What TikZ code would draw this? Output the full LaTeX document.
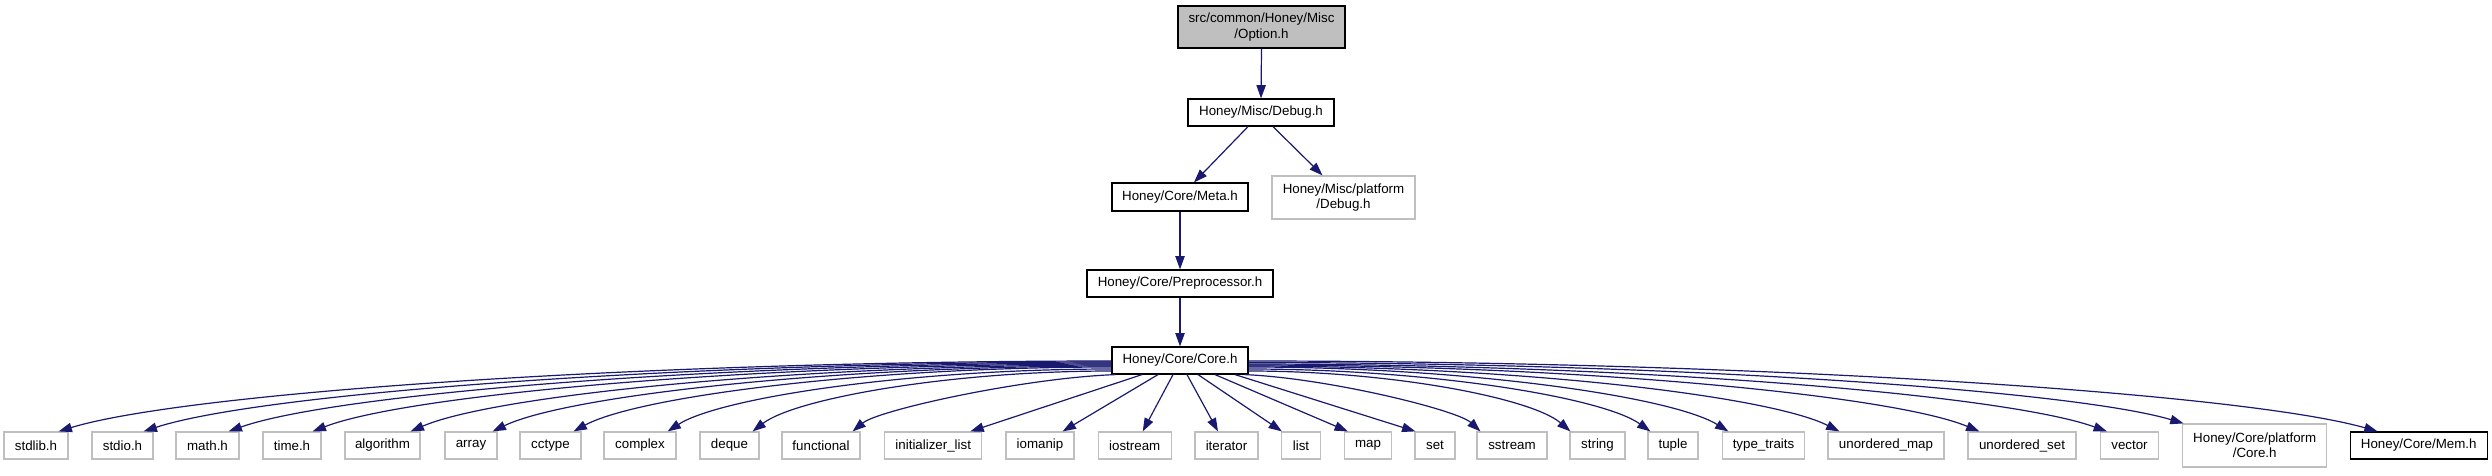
\documentclass[tikz,border=0pt]{standalone}
\usepackage{fontspec}
\setmainfont{Liberation Sans}
\usetikzlibrary{arrows.meta,calc}
\definecolor{edgeblue}{HTML}{191970}
\definecolor{greyseventyfive}{HTML}{BFBFBF}
\begin{document}
\begin{tikzpicture}[x=0.75pt, y=-0.75pt,
  box/.style={draw=black, line width=0.9pt, fill=white, inner sep=0pt,
    font=\fontsize{10}{11.5}\selectfont, align=center, minimum height=20.25pt},
  twoline/.style={minimum height=32.25pt},
  ext/.style={box, draw=greyseventyfive},
  edge/.style={draw=edgeblue, line width=0.9pt, -{Triangle[length=10pt,width=7pt]}}]
\useasboundingbox[fill=white] (0,0) rectangle (2492,475);

% upper part
\node[box, twoline, fill=greyseventyfive, minimum width=125.25pt, minimum height=31.5pt] (opt) at (1261.5,27) {src/common/Honey/Misc\\/Option.h};
\node[box, minimum width=109.5pt] (dbg) at (1261,112.5) {Honey/Misc/Debug.h};
\node[box, minimum width=102pt, minimum height=21pt] (meta) at (1180,197) {Honey/Core/Meta.h};
\node[ext, twoline, minimum width=107.25pt] (pdbg) at (1343.5,197.5) {Honey/Misc/platform\\/Debug.h};
\node[box, minimum width=139.5pt] (pre) at (1180,283.5) {Honey/Core/Preprocessor.h};
\node[box, minimum width=102pt] (core) at (1180,360.5) {Honey/Core/Core.h};

% bottom row
\node[ext, minimum width=48pt] (stdlib) at (36,445.5) {stdlib.h};
\node[ext, minimum width=45.75pt] (stdio) at (122.5,445.5) {stdio.h};
\node[ext, minimum width=47.25pt] (math) at (207.5,445.5) {math.h};
\node[ext, minimum width=43.5pt] (time) at (292,445.5) {time.h};
\node[ext, minimum width=56.25pt] (algorithm) at (382.5,445.5) {algorithm};
\node[ext, minimum width=39pt] (array) at (471,445.5) {array};
\node[ext, minimum width=45.75pt] (cctype) at (550.5,445.5) {cctype};
\node[ext, minimum width=54pt] (complex) at (640,445.5) {complex};
\node[ext, minimum width=44.25pt] (deque) at (729.5,445.5) {deque};
\node[ext, minimum width=58.5pt] (functional) at (821,445.5) {functional};
\node[ext, minimum width=72.75pt] (initlist) at (933.25,445.5) {initializer\_list};
\node[ext, minimum width=51pt] (iomanip) at (1040,445.5) {iomanip};
\node[ext, minimum width=54.75pt] (iostream) at (1134.7,445.5) {iostream};
\node[ext, minimum width=47.25pt] (iterator) at (1226.5,445.5) {iterator};
\node[ext, minimum width=29.25pt] (list) at (1301,445.5) {list};
\node[ext, minimum width=35.25pt] (map) at (1368,445.5) {map};
\node[ext, minimum width=30pt] (set) at (1435,445.5) {set};
\node[ext, minimum width=52.5pt] (sstream) at (1512,445.5) {sstream};
\node[ext, minimum width=41.25pt] (string) at (1597.5,445.5) {string};
\node[ext, minimum width=37.5pt] (tuple) at (1673,445.5) {tuple};
\node[ext, minimum width=61.5pt] (typetraits) at (1763.5,445.5) {type\_traits};
\node[ext, minimum width=87pt] (umap) at (1886,445.5) {unordered\_map};
\node[ext, minimum width=81pt] (uset) at (2022,445.5) {unordered\_set};
\node[ext, minimum width=43.5pt] (vector) at (2129.5,445.5) {vector};
\node[ext, twoline, minimum width=108pt] (pcore) at (2254.7,445.5) {Honey/Core/platform\\/Core.h};
\node[box, minimum width=102.75pt] (mem) at (2418.7,445.5) {Honey/Core/Mem.h};

% upper edges
\draw[edge] (opt.south) -- (dbg.north);
\draw[edge] ($(dbg.south)+(-13,0)$) -- ($(meta.north)+(14,0)$);
\draw[edge] ($(dbg.south)+(12,0)$) -- ($(pdbg.north)+(-21,0)$);
\draw[edge] (meta.south) -- (pre.north);
\draw[edge] (pre.south) -- (core.north);

% left fan
\draw[edge] ($(core.west)+(0,0.5)$) .. controls (637.7,361) and (184.5,393) .. ($(stdlib.north east)+(-10,0)$);
\draw[edge] ($(core.west)+(0,1.5)$) .. controls (676,362) and (259.3,393.5) .. ($(stdio.north east)+(-10,0)$);
\draw[edge] ($(core.west)+(0,2.5)$) .. controls (714.2,363) and (334.1,394) .. ($(math.north east)+(-11,0)$);
\draw[edge] ($(core.west)+(0,3.5)$) .. controls (752,364) and (408,394.6) .. ($(time.north east)+(-9,0)$);
\draw[edge] ($(core.west)+(0,4.5)$) .. controls (796.1,365) and (494.2,395.2) .. ($(algorithm.north east)+(-10,0)$);
\draw[edge] ($(core.west)+(0,5.5)$) .. controls (833,366) and (566.4,395.7) .. ($(array.north east)+(-5,0)$);
\draw[edge] ($(core.west)+(0,6.5)$) .. controls (869.5,367) and (637.7,396.3) .. ($(cctype.north east)+(-8,0)$);
\draw[edge] ($(core.west)+(0,8.5)$) .. controls (911.8,369) and (720.4,397.4) .. ($(complex.north east)+(-9,0)$);
\draw[edge] ($(core.west)+(0,10.5)$) .. controls (950,371) and (795.2,398.5) .. ($(deque.north east)+(-7,0)$);
\draw[edge] ($(core.south west)+(4,0)$) .. controls (1023.6,378) and (878.4,410) .. ($(functional.north east)+(-8,0)$);

% middle
\draw[edge] ($(core.south)+(-38,0)$) -- ($(initlist.north east)+(-12,0)$);
\draw[edge] ($(core.south)+(-22,0)$) -- ($(iomanip.north east)+(-12,0)$);
\draw[edge] ($(core.south)+(-7,0)$) -- ($(iostream.north)+(8,0)$);
\draw[edge] ($(core.south)+(7,0)$) -- ($(iterator.north)+(-8.5,0)$);
\draw[edge] ($(core.south)+(18,0)$) -- ($(list.north west)+(1,0)$);
\draw[edge] ($(core.south)+(35,0)$) -- ($(map.north west)+(4,0)$);
\draw[edge] ($(core.south)+(55,0)$) -- ($(set.north west)+(1,0)$);

% right fan
\draw[edge] ($(core.south east)+(-4,0)$) .. controls (1327,378) and (1457.3,410) .. ($(sstream.north west)+(4,0)$);
\draw[edge] ($(core.east)+(0,10.5)$) .. controls (1393.4,371) and (1532.2,398.5) .. ($(string.north west)+(1,0)$);
\draw[edge] ($(core.east)+(0,8.5)$) .. controls (1429.4,369) and (1602.6,397.4) .. ($(tuple.north west)+(3,0)$);
\draw[edge] ($(core.east)+(0,6.5)$) .. controls (1464.5,367) and (1671.3,396.3) .. ($(typetraits.north west)+(6.5,0)$);
\draw[edge] ($(core.east)+(0,5.5)$) .. controls (1514.4,366) and (1769,395.7) .. ($(umap.north west)+(12,0)$);
\draw[edge] ($(core.east)+(0,4.5)$) .. controls (1577.4,365) and (1892.2,395.2) .. ($(uset.north west)+(12,0)$);
\draw[edge] ($(core.east)+(0,3.5)$) .. controls (1635,364) and (2004.8,394.6) .. ($(vector.north west)+(7,0)$);
\draw[edge] ($(core.east)+(0,2)$) .. controls (1669.2,362.5) and (2071.7,390.2) .. ($(pcore.north west)+(1.5,0)$);
\draw[edge] ($(core.east)+(0,0.5)$) .. controls (1756.5,361) and (2242.4,393) .. ($(mem.north west)+(28,0)$);
\end{tikzpicture}
\end{document}
